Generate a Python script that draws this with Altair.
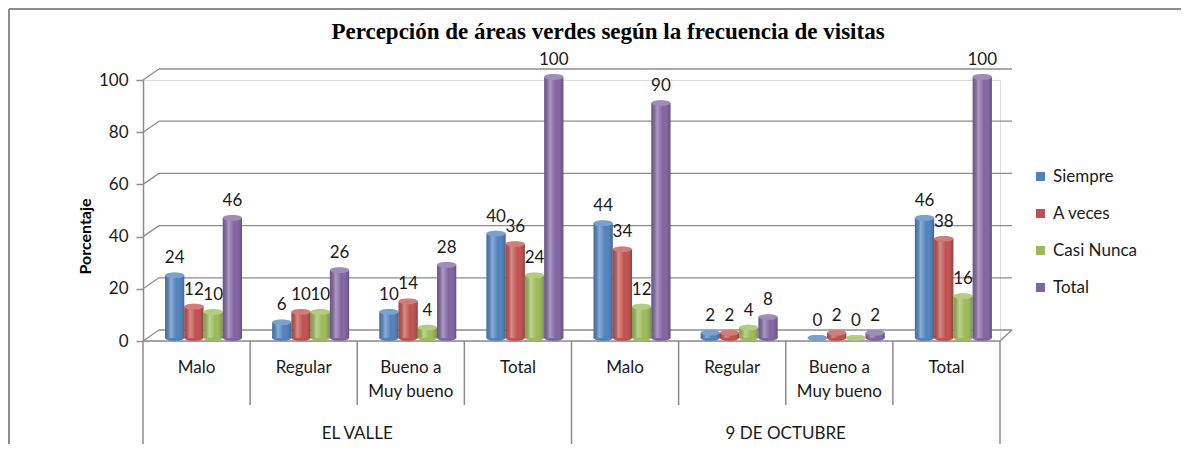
import altair as alt
import pandas as pd

# ---------------- data ----------------
groups = ["EL VALLE"] * 4 + ["9 DE OCTUBRE"] * 4
categories = ["Malo", "Regular", "Bueno a Muy bueno", "Total"] * 2
cat_labels = ["Malo", "Regular", "Bueno a\nMuy bueno", "Total"] * 2
series = ["Siempre", "A veces", "Casi Nunca", "Total"]
siempre = [24, 6, 10, 40, 44, 2, 0, 46]
a_veces = [12, 10, 14, 36, 34, 2, 2, 38]
casi_nunca = [10, 10, 4, 24, 12, 4, 0, 16]
total = [46, 26, 28, 100, 90, 8, 2, 100]
colors = ["#4F81BD", "#C0504D", "#9BBB59", "#8064A2"]
y_ticks = [0, 20, 40, 60, 80, 100]
title_text = "Percepción de áreas verdes según la frecuencia de visitas"

# ---------------- tables ----------------
keys = [f"{g}|{c}" for g, c in zip(groups, categories)]
rows = []
for s, vals in zip(series, [siempre, a_veces, casi_nunca, total]):
    for k, v in zip(keys, vals):
        rows.append({"key": k, "serie": s, "valor": v})
df = pd.DataFrame(rows)
cats_df = pd.DataFrame({"key": keys, "label": cat_labels, "group": groups, "pos": [0, 1, 2, 3] * 2})
grid_df = pd.DataFrame({"v": y_ticks})

# ---------------- layout constants ----------------
W, H = 857, 261
DX = 16                      # 3D depth (px)
DYU = 11 * 100 / H           # 3D depth in data units
FONT = "Lato, Carlito, sans-serif"
FS = 17
GRAY = "#8c8c8c"
TXT = "#1a1a1a"

xsc = alt.Scale(domain=keys, paddingInner=0, paddingOuter=0)
ysc = alt.Scale(domain=[0, 100], nice=False, zero=True)
yax = alt.Axis(values=y_ticks, title="Porcentaje", grid=False, domainColor=GRAY, domainWidth=1.5,
               tickColor=GRAY, tickSize=7, tickWidth=1.5, labelFontSize=FS, labelFont=FONT,
               labelColor=TXT, labelPadding=8, titleFontSize=16, titleFontWeight="bold",
               titleFont=FONT, titleColor="black", titleY=156, titleX=-50)
xoff = alt.XOffset("serie:N", sort=series,
                   scale=alt.Scale(domain=series, range=[22, 99], paddingInner=0, paddingOuter=0))
leg = alt.Legend(orient="none", legendX=889, legendY=88, title=None, symbolType="square",
                 symbolSize=81, labelFontSize=FS, labelFont=FONT, rowPadding=19, labelOffset=4,
                 padding=0, symbolStrokeWidth=0, labelColor=TXT)
col = alt.Color("serie:N", sort=series, scale=alt.Scale(domain=series, range=colors), legend=leg)
X = alt.X("key:N", scale=xsc, axis=None)

ellipse = "M-1,0 A1,0.3 0 1,0 1,0 A1,0.3 0 1,0 -1,0 Z"

base = alt.Chart(df)

# gridlines (back wall) and depth diagonals
grid = alt.Chart(grid_df).transform_calculate(vb=f"datum.v + {DYU}").mark_rule(
    color=GRAY, strokeWidth=1.3).encode(
    x=alt.value(DX), x2=alt.value(W + 12), y=alt.Y("vb:Q", scale=ysc, axis=yax))
diag = alt.Chart(grid_df).transform_calculate(vb=f"datum.v + {DYU}").mark_rule(
    color=GRAY, strokeWidth=1.3).encode(
    x=alt.value(0), x2=alt.value(DX), y=alt.Y("v:Q", scale=ysc, axis=yax), y2="vb:Q")
floor_front = alt.Chart(grid_df).transform_filter("datum.v == 0").mark_rule(
    color=GRAY, strokeWidth=1.5).encode(
    x=alt.value(0), x2=alt.value(W), y=alt.Y("v:Q", scale=ysc, axis=yax))
floor_right = alt.Chart(grid_df).transform_filter("datum.v == 0").transform_calculate(
    vb=f"datum.v + {DYU}").mark_rule(color=GRAY, strokeWidth=1.3).encode(
    x=alt.value(W), x2=alt.value(W + 12), y=alt.Y("v:Q", scale=ysc, axis=yax), y2="vb:Q")

# cylinders
bottoms = base.transform_calculate(cero="0").mark_point(
    shape=ellipse, filled=True, size=370, opacity=1, yOffset=-3).encode(
    x=X, xOffset=xoff, y=alt.Y("cero:Q", scale=ysc, axis=yax), color=col)
bars = base.mark_bar(yOffset=-3).encode(
    x=X, xOffset=xoff, y=alt.Y("valor:Q", scale=ysc, axis=yax), color=col)
shade = alt.Gradient(gradient="linear", x1=0, x2=1, y1=0, y2=0, stops=[
    alt.GradientStop(color="rgba(0,0,0,0.12)", offset=0),
    alt.GradientStop(color="rgba(255,255,255,0.35)", offset=0.3),
    alt.GradientStop(color="rgba(255,255,255,0)", offset=0.6),
    alt.GradientStop(color="rgba(0,0,0,0.22)", offset=1)])
bars_shade = base.mark_bar(yOffset=-3, fill=shade).encode(
    x=X, xOffset=xoff, y=alt.Y("valor:Q", scale=ysc, axis=yax))
tops = base.mark_point(shape=ellipse, filled=True, size=370, opacity=1, yOffset=-3).encode(
    x=X, xOffset=xoff, y=alt.Y("valor:Q", scale=ysc, axis=yax), color=col)
tops_hl = base.mark_point(shape=ellipse, filled=True, size=370, opacity=0.25, color="white",
                          yOffset=-3).encode(
    x=X, xOffset=xoff, y=alt.Y("valor:Q", scale=ysc, axis=yax))
labels = base.mark_text(baseline="bottom", dy=-11, fontSize=FS, font=FONT, color=TXT).encode(
    x=X, xOffset=xoff, y=alt.Y("valor:Q", scale=ysc, axis=yax), text="valor:Q")

# category axis (hierarchical)
cat_text = alt.Chart(cats_df).mark_text(baseline="top", lineBreak="\n", fontSize=FS, font=FONT,
                                        color=TXT, lineHeight=24).encode(
    x=X, y=alt.value(H + 19), text="label:N")
cat_div = alt.Chart(cats_df).transform_filter("datum.pos != 0").mark_rule(
    color=GRAY, strokeWidth=1.5).encode(
    x=alt.X("key:N", scale=xsc, axis=None, bandPosition=0), y=alt.value(H), y2=alt.value(H + 64))
grp_div = alt.Chart(cats_df).transform_filter("datum.pos == 0").mark_rule(
    color=GRAY, strokeWidth=1.5).encode(
    x=alt.X("key:N", scale=xsc, axis=None, bandPosition=0), y=alt.value(H), y2=alt.value(H + 106))
end_div = alt.Chart(cats_df).transform_filter(f"datum.key == '{keys[-1]}'").mark_rule(
    color=GRAY, strokeWidth=1.5).encode(
    x=alt.X("key:N", scale=xsc, axis=None, bandPosition=1), y=alt.value(H), y2=alt.value(H + 106))
grp_text = alt.Chart(cats_df).transform_filter("datum.pos == 2").mark_text(
    baseline="middle", fontSize=FS, font=FONT, color=TXT).encode(
    x=alt.X("key:N", scale=xsc, axis=None, bandPosition=0), y=alt.value(H + 93), text="group:N")

# title and frame
title = alt.Chart(grid_df).transform_filter("datum.v == 0").mark_text(
    text=title_text, font="Liberation Serif, Times New Roman, serif", fontWeight="bold",
    fontSize=23, baseline="alphabetic", align="center", color="black").encode(
    x=alt.value(465), y=alt.value(-41))
frame_top = alt.Chart(grid_df).transform_filter("datum.v == 0").mark_rule(
    color=GRAY, strokeWidth=2).encode(
    x=alt.value(-134), x2=alt.value(W + 181), y=alt.value(-71))
frame_left = alt.Chart(grid_df).transform_filter("datum.v == 0").mark_rule(
    color=GRAY, strokeWidth=2).encode(
    x=alt.value(-134), y=alt.value(-71), y2=alt.value(H + 103))

chart = alt.layer(
    frame_top, frame_left, grid, diag, floor_front, floor_right,
    bottoms, bars, bars_shade, tops, tops_hl, labels,
    cat_div, grp_div, end_div, cat_text, grp_text, title
).properties(
    width=W, height=H,
    padding={"left": 135, "top": 72, "right": 181, "bottom": 103},
    autosize=alt.AutoSizeParams(type="none"),
).configure_view(stroke=None).configure(background="white")

chart.save("out.html", embed_options={"renderer": "svg", "actions": False})
